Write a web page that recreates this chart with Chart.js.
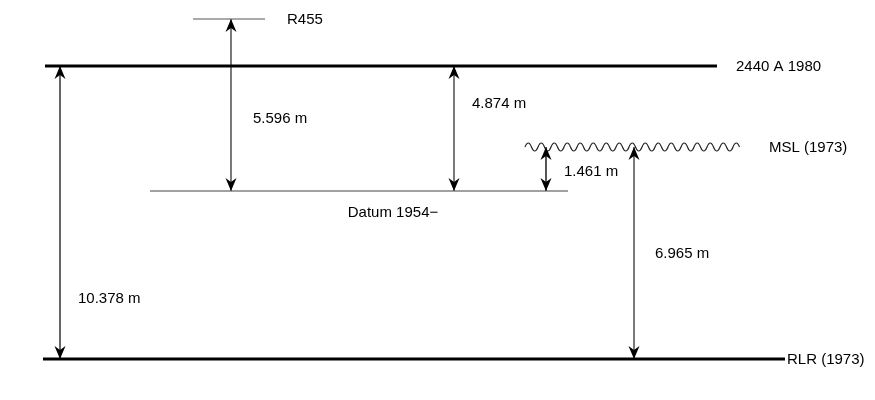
<!DOCTYPE html>
<html>
<head>
<meta charset="utf-8">
<script src="https://cdn.jsdelivr.net/npm/chart.js@4.4.1/dist/chart.umd.min.js"></script>
<style>
  html, body { margin: 0; padding: 0; background: #fff; }
  #wrap { width: 875px; height: 400px; position: relative; }
</style>
</head>
<body>
<div id="wrap"><canvas id="datumChart"></canvas></div>
<script>
// ========== Data (diagram units, y grows downward) ==========
const levelNames = ['R455', '2440 A 1980', 'Datum 1954\u2212', 'MSL (1973)', 'RLR (1973)'];
const levelY     = [19, 66, 191, 147, 359];
const levelStart = [193, 45, 150, 525, 43];
const levelEnd   = [265, 717, 568, 743, 785];
const levelNameX = [287, 736, 393, 769, 787];
const levelNameY = [19, 66, 212, 147, 359];

const spanLabels = ['5.596 m', '4.874 m', '1.461 m', '6.965 m', '10.378 m'];
const spanX      = [231, 454, 546, 634, 60];
const spanTop    = [19, 66, 147, 147, 66];
const spanBottom = [191, 191, 191, 359, 359];
const spanLabelX = [253, 472, 564, 655, 78];
const spanLabelY = [118, 103, 171, 253, 298];

// ========== Styles ==========
const levelWidth = [1.2, 3, 1.2, 1, 3];
const levelColor = ['#555', '#000', '#444', '#222', '#000'];
const spanWidth  = [1.2, 1.2, 2, 1.2, 2];
const spanColor  = ['#222', '#222', '#555', '#222', '#666'];
const FONT = '15px "Liberation Sans", Arial, sans-serif';

// chevron arrowhead, tip sits at canvas centre pointing up
function makeHead() {
  const c = document.createElement('canvas');
  c.width = 12; c.height = 28;
  const g = c.getContext('2d');
  g.beginPath();
  g.moveTo(6, 14);
  g.lineTo(11.5, 27);
  g.lineTo(6, 23);
  g.lineTo(0.5, 27);
  g.closePath();
  g.fillStyle = '#000';
  g.fill();
  return c;
}
const head = makeHead();

// ========== Datasets ==========
const levelSets = levelNames.map((name, i) => ({
  label: name,
  data: [{ x: levelStart[i], y: levelY[i] }, { x: levelEnd[i], y: levelY[i] }],
  showLine: true,
  borderColor: name.startsWith('MSL') ? 'rgba(0,0,0,0)' : levelColor[i],
  borderWidth: levelWidth[i],
  pointRadius: 0,
  wave: name.startsWith('MSL'),
  waveColor: levelColor[i]
}));

const spanSets = spanLabels.map((lab, i) => ({
  label: lab,
  data: [{ x: spanX[i], y: spanTop[i] }, { x: spanX[i], y: spanBottom[i] }],
  showLine: true,
  borderColor: spanColor[i],
  borderWidth: spanWidth[i],
  pointStyle: head,
  pointRadius: 6,
  pointRotation: [0, 180]
}));

// ========== Plugins ==========
const wavePlugin = {
  id: 'wave',
  beforeDatasetsDraw(chart) {
    const { ctx, scales: { x, y } } = chart;
    chart.data.datasets.forEach(ds => {
      if (!ds.wave) return;
      const x0 = x.getPixelForValue(ds.data[0].x);
      const x1 = x.getPixelForValue(ds.data[1].x);
      const py = y.getPixelForValue(ds.data[0].y);
      const half = 6.5, amp = 4;
      ctx.save();
      ctx.strokeStyle = ds.waveColor;
      ctx.lineWidth = 1.2;
      ctx.beginPath();
      ctx.moveTo(x0, py);
      let k = 0;
      for (let px = x0; px + half <= x1 + 0.5; px += half, k++) {
        const dir = k % 2 === 0 ? -1 : 1;
        ctx.quadraticCurveTo(px + half / 2, py + dir * amp * 2, px + half, py);
      }
      ctx.stroke();
      ctx.restore();
    });
  }
};

const textPlugin = {
  id: 'texts',
  afterDatasetsDraw(chart) {
    const { ctx, scales: { x, y } } = chart;
    ctx.save();
    ctx.font = FONT;
    ctx.fillStyle = '#000';
    ctx.textBaseline = 'middle';
    levelNames.forEach((t, i) => {
      ctx.textAlign = t.startsWith('Datum') ? 'center' : 'left';
      ctx.fillText(t, x.getPixelForValue(levelNameX[i]), y.getPixelForValue(levelNameY[i]) + 1);
    });
    ctx.textAlign = 'left';
    spanLabels.forEach((t, i) => {
      ctx.fillText(t, x.getPixelForValue(spanLabelX[i]), y.getPixelForValue(spanLabelY[i]) + 1);
    });
    ctx.restore();
  }
};

// ========== Chart ==========
new Chart(document.getElementById('datumChart'), {
  type: 'scatter',
  data: { datasets: [...levelSets, ...spanSets] },
  options: {
    responsive: true,
    maintainAspectRatio: false,
    animation: false,
    events: [],
    layout: { padding: 0, autoPadding: false },
    scales: {
      x: { type: 'linear', min: 0, max: 875, display: false },
      y: { type: 'linear', min: 0, max: 400, reverse: true, display: false }
    },
    plugins: {
      legend: { display: false },
      tooltip: { enabled: false }
    }
  },
  plugins: [wavePlugin, textPlugin]
});
</script>
</body>
</html>
